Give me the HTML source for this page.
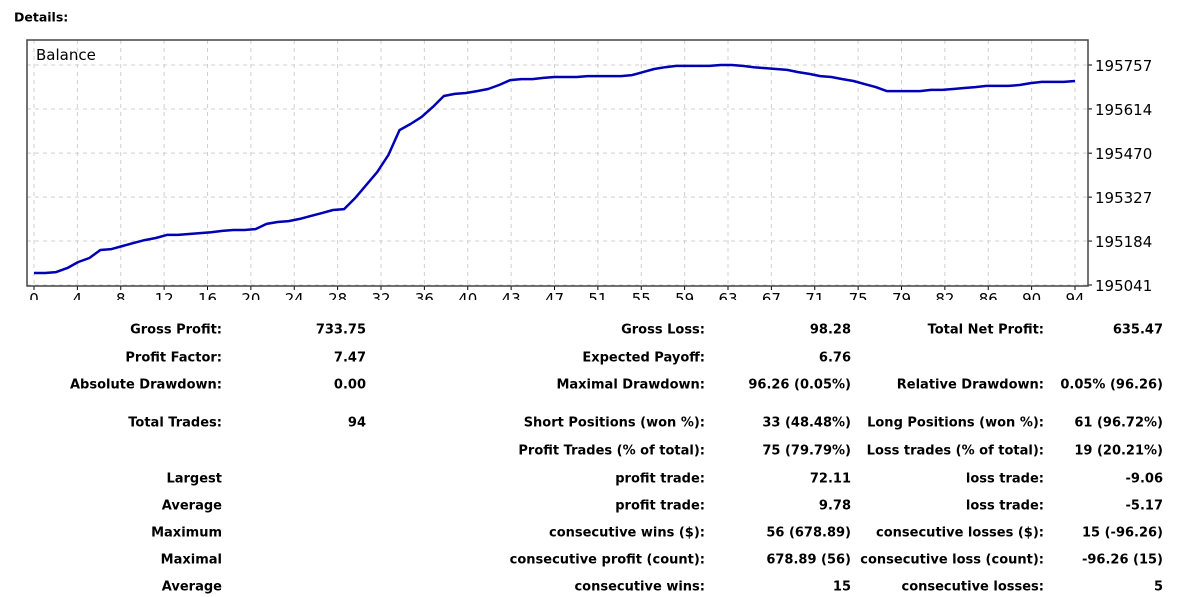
<!DOCTYPE html>
<html><head><meta charset="utf-8"><style>
body{margin:0;width:1177px;height:597px;background:#fff;font-family:"DejaVu Sans","Liberation Sans",sans-serif;overflow:hidden;position:relative}
.t{position:absolute;font-size:13px;font-weight:bold;color:#000;white-space:nowrap;transform:translateY(-50%)}
.r{text-align:right}
svg text{font-family:"DejaVu Sans","Liberation Sans",sans-serif;font-size:15px;fill:#000}
</style></head><body>
<div class="t" style="left:14px;top:17px;font-size:12.5px">Details:</div>
<svg id="chart" width="1177" height="300" style="position:absolute;left:0;top:0"></svg>
<div id="stats"></div>
<script>
const balances=[195080,195080,195083,195096,195116,195129,195155,195158,195168,195178,195187,195194,195204,195204,195207,195210,195213,195217,195220,195220,195223,195240,195246,195249,195256,195266,195275,195285,195288,195324,195366,195409,195464,195545,195565,195588,195620,195656,195663,195666,195672,195679,195692,195708,195711,195711,195715,195718,195718,195718,195721,195721,195721,195721,195724,195734,195744,195750,195754,195754,195754,195754,195757,195757,195754,195750,195747,195744,195741,195734,195728,195721,195718,195711,195705,195695,195685,195672,195672,195672,195672,195676,195676,195679,195682,195685,195689,195689,195689,195692,195698,195702,195702,195702,195705];
const xTickLabels=["0","4","8","12","16","20","24","28","32","36","40","43","47","51","55","59","63","67","71","75","79","82","86","90","94"];
const yTickValues=[195041,195184,195327,195470,195614,195757];
const NS="http://www.w3.org/2000/svg";
const svg=document.getElementById('chart');
const L=27,R=1088,T=40,B=286;
const X0=34,X1=1075,IMAX=94;
const Y0=195041,Y1=195757,PY0=285,PY1=65;
function xs(i){return X0+(i/IMAX)*(X1-X0);}
function ys(v){return PY0+(v-Y0)/(Y1-Y0)*(PY1-PY0);}
function mk(tag,attrs){const e=document.createElementNS(NS,tag);for(const k in attrs)e.setAttribute(k,attrs[k]);svg.appendChild(e);return e;}
xTickLabels.forEach((lab,k)=>{
  const x=xs(k*IMAX/(xTickLabels.length-1));
  const g=mk('line',{x1:x,x2:x,y1:T,y2:B,stroke:'#d0d0d0','stroke-dasharray':'4,4'});
  
  
  const tk=mk('line',{x1:x,x2:x,y1:B,y2:B+4,stroke:'#000'});
  
  
  const t=mk('text',{x:x,y:B+18,'text-anchor':'middle'});
  t.textContent=lab;
  
  
});
yTickValues.forEach(v=>{
  const y=ys(v);
  const g=mk('line',{x1:L,x2:R,y1:y,y2:y,stroke:'#d0d0d0','stroke-dasharray':'4,4'});
  
  
  const tk=mk('line',{x1:R,x2:R+4,y1:y,y2:y,stroke:'#000'});
  
  
  const t=mk('text',{x:R+7,y:y+6});
  t.textContent=String(v);
  
  
});
const fr=mk('rect',{x:L,y:T,width:R-L,height:B-T,fill:'none',stroke:'#444','stroke-width':1.5});


const bl=mk('text',{x:36,y:60,'font-size':15});
bl.textContent='Balance';


const pts=balances.map((v,i)=>xs(i).toFixed(1)+','+ys(v).toFixed(1)).join(' ');
const ln=mk('polyline',{points:pts,fill:'none',stroke:'#0000b4','stroke-width':2.5,'stroke-linejoin':'round'});



const rows=[
 [330,"Gross Profit:","733.75","Gross Loss:","98.28","Total Net Profit:","635.47"],
 [358,"Profit Factor:","7.47","Expected Payoff:","6.76","",""],
 [385,"Absolute Drawdown:","0.00","Maximal Drawdown:","96.26 (0.05%)","Relative Drawdown:","0.05% (96.26)"],
 [423,"Total Trades:","94","Short Positions (won %):","33 (48.48%)","Long Positions (won %):","61 (96.72%)"],
 [451,"","","Profit Trades (% of total):","75 (79.79%)","Loss trades (% of total):","19 (20.21%)"],
 [479,"Largest","","profit trade:","72.11","loss trade:","-9.06"],
 [506,"Average","","profit trade:","9.78","loss trade:","-5.17"],
 [533,"Maximum","","consecutive wins ($):","56 (678.89)","consecutive losses ($):","15 (-96.26)"],
 [560,"Maximal","","consecutive profit (count):","678.89 (56)","consecutive loss (count):","-96.26 (15)"],
 [587,"Average","","consecutive wins:","15","consecutive losses:","5"]];
const rights=[222,366,705,851,1044,1163];
const st=document.getElementById('stats');
rows.forEach(r=>{
  for(let c=0;c<6;c++){
    if(!r[c+1])continue;
    const d=document.createElement('div');
    d.className='t r';
    d.style.right=(1177-rights[c])+'px';
    d.style.top=r[0]+'px';
    d.textContent=r[c+1];
    
    
    st.appendChild(d);
  }
});
</script>
</body></html>
